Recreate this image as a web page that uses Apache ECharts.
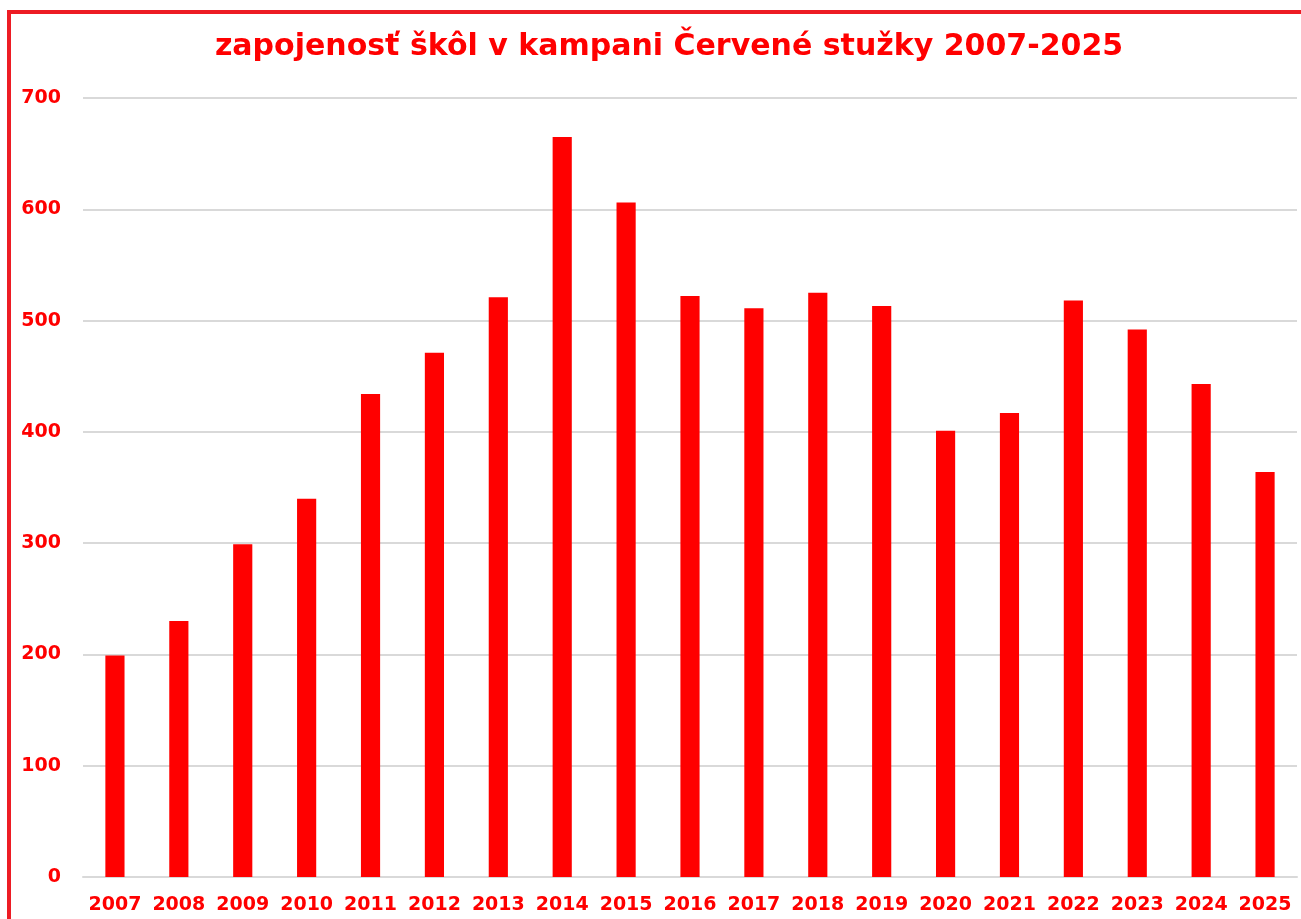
<!DOCTYPE html>
<html>
<head>
<meta charset="utf-8">
<script src="https://cdn.jsdelivr.net/npm/echarts@6/dist/echarts.min.js"></script>
<style>
  html, body { margin: 0; padding: 0; background: #fff; }
  #frame {
    position: absolute; left: 7px; top: 10px; right: 0; bottom: 0;
    border-top: 4px solid #ed1c24; border-left: 4px solid #ed1c24;
  }
  #chart { position: absolute; left: 0; top: 0; width: 1301px; height: 919px; }
</style>
</head>
<body>
<div id="frame"></div>
<div id="chart"></div>
<script>
const years = ['2007', '2008', '2009', '2010', '2011', '2012', '2013', '2014', '2015', '2016',
  '2017', '2018', '2019', '2020', '2021', '2022', '2023', '2024', '2025']
const schools = [199, 230, 299, 340, 434, 471, 521, 665, 606, 522,
  511, 525, 513, 401, 417, 518, 492, 443, 364]
const yTicks = { min: 0, max: 700, step: 100 }

const red = '#ff0000'
const font = 'DejaVu Sans, sans-serif'

const chart = echarts.init(document.getElementById('chart'))
chart.setOption({
  animation: false,
  title: {
    text: 'zapojenosť škôl v kampani Červené stužky 2007-2025',
    left: 664,
    textAlign: 'center',
    top: 27,
    textStyle: { color: red, fontFamily: font, fontWeight: 'bold', fontSize: 30 }
  },
  grid: { left: 83, right: 4, top: 98, bottom: 42 },
  xAxis: {
    type: 'category',
    data: years,
    axisLine: { lineStyle: { color: '#d9d9d9', width: 2 } },
    axisTick: { show: false },
    axisLabel: { interval: 0, color: red, fontFamily: font, fontWeight: 'bold', fontSize: 19, margin: 19 }
  },
  yAxis: {
    type: 'value',
    min: yTicks.min,
    max: yTicks.max,
    interval: yTicks.step,
    axisLine: { show: false },
    axisTick: { show: false },
    splitLine: { lineStyle: { color: '#d9d9d9', width: 2 } },
    axisLabel: { color: red, fontFamily: font, fontWeight: 'bold', fontSize: 19, margin: 22 }
  },
  series: [{
    type: 'bar',
    data: schools,
    barWidth: '30%',
    itemStyle: { color: red }
  }]
})
</script>
</body>
</html>
